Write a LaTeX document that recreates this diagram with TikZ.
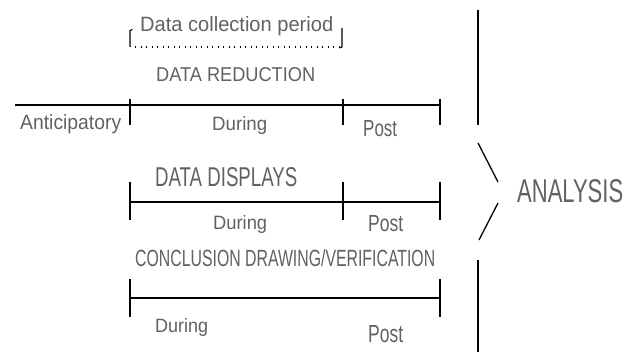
\documentclass[tikz,border=0pt]{standalone}
\usepackage{fontspec}
\setmainfont{Liberation Sans}
\newcommand\lab[3]{\resizebox{#1pt}{#2pt}{#3}}
\begin{document}
\begin{tikzpicture}[x=1pt,y=-1pt,
  lbl/.style={inner sep=0pt,anchor=base west,text=black!62},
  bar/.style={line width=1.3pt},
  dots/.style={line width=1.1pt,dash pattern=on 1.2pt off 4.3pt}]
\useasboundingbox (0,0) rectangle (637,352);
% bracket
\draw[bar,line width=1.1pt] (132.5,29.5) -- (130,30.5) -- (130,47);
\draw[bar,line width=1.1pt] (342,28) -- (342,47) -- (339.5,48);
\draw[dots] (135,47) -- (339,47);
\node[lbl] (dcp) at (140,32) {\lab{193}{15}{Data collection period}};
% row 1
\node[lbl] (dred) at (156,82) {\lab{159}{14}{DATA REDUCTION}};
\draw[bar] (15,105) -- (440,105);
\draw[bar] (130,99) -- (130,125);
\draw[bar] (343,99) -- (343,125);
\draw[bar] (440,99) -- (440,125);
\node[lbl] (ant) at (20,130) {\lab{101}{15}{Anticipatory}};
\node[lbl] (dur1) at (212,131) {\lab{55}{14}{During}};
\node[lbl] (post1) at (363,137) {\lab{34}{16}{Post}};
% row 2
\node[lbl] (ddis) at (155,187) {\lab{142}{19}{DATA DISPLAYS}};
\draw[bar] (130,202) -- (440,202);
\draw[bar] (130,182) -- (130,220);
\draw[bar] (343,182) -- (343,220);
\draw[bar] (440,182) -- (440,220);
\node[lbl] (dur2) at (213,230) {\lab{54}{14}{During}};
\node[lbl] (post2) at (368,232) {\lab{35}{16}{Post}};
% row 3
\node[lbl] (cdv) at (135,267) {\lab{300}{17}{CONCLUSION DRAWING/VERIFICATION}};
\draw[bar] (130,298) -- (440,298);
\draw[bar] (130,279) -- (130,317);
\draw[bar] (440,279) -- (440,317);
\node[lbl] (dur3) at (155,333) {\lab{53}{14}{During}};
\node[lbl] (post3) at (368,343) {\lab{35}{17}{Post}};
% analysis
\draw[bar] (478,10) -- (478,125);
\draw[bar] (478,143) -- (498,182);
\draw[bar] (498,203) -- (479,240);
\draw[bar] (478,260) -- (478,352);
\node[lbl] (ana) at (517,203) {\lab{106}{23}{ANALYSIS}};
\end{tikzpicture}
\end{document}
